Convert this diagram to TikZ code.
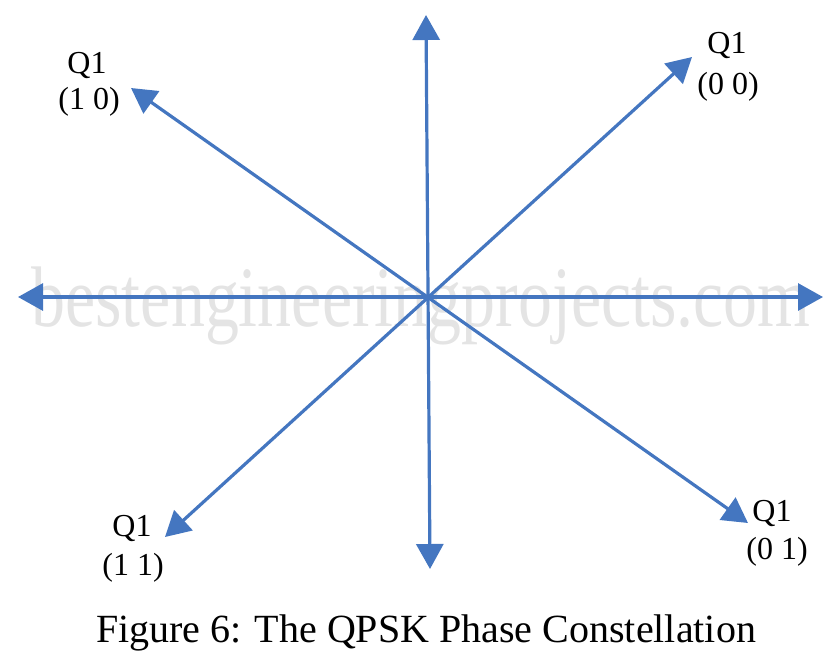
\documentclass[tikz,border=0pt]{standalone}
\usepackage{fontspec}
\setmainfont{Liberation Serif}
\usetikzlibrary{arrows.meta}
\definecolor{axisblue}{RGB}{68,118,192}
\definecolor{wmgray}{RGB}{228,228,228}
\tikzset{
  axis/.style={draw=axisblue, line width=3.2pt, {Triangle[length=25pt,width=27pt]}-{Triangle[length=25pt,width=27pt]}},
  lbl/.style={font=\fontsize{32}{33}\selectfont, inner sep=0pt, align=center},
}
\begin{document}
\begin{tikzpicture}[x=1pt,y=-1pt]
\useasboundingbox (0,0) rectangle (840,665);
% watermark
\node[text=wmgray, font=\fontsize{86}{86}\selectfont, inner sep=0pt, anchor=base, xscale=0.79, transform shape] (wm) at (421,326) {bestengineeringprojects.com};
% tips
\coordinate (top) at (426,15);
\coordinate (bot) at (430,569);
\coordinate (left) at (18,297);
\coordinate (right) at (823,297);
\coordinate (ur) at (692,57);
\coordinate (ll) at (165,537);
\coordinate (ul) at (131,88);
\coordinate (lr) at (748,523);
\draw[axis] (left) -- (right);
\draw[axis] (top) -- (bot);
\draw[axis] (ll) -- (ur);
\draw[axis] (ul) -- (lr);
% labels
\node[lbl] (q00) at (727,45) {Q1};
\node[lbl] (b00) at (728,87) {(0 0)};
\node[lbl] (q10) at (87,65) {Q1};
\node[lbl] (b10) at (89,102) {(1 0)};
\node[lbl] (q11) at (132,528) {Q1};
\node[lbl] (b11) at (133,568) {(1 1)};
\node[lbl] (q01) at (772,513) {Q1};
\node[lbl] (b01) at (777,552) {(0 1)};
\node[font=\fontsize{40}{42}\selectfont, inner sep=0pt] (cap) at (426,633) {Figure 6: The QPSK Phase Constellation};
\end{tikzpicture}
\end{document}
